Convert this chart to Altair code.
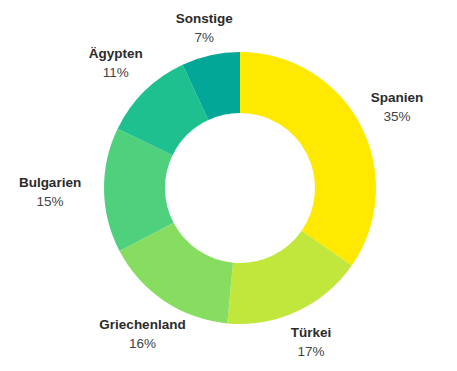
import altair as alt
import pandas as pd

laender = ["Spanien", "Türkei", "Griechenland", "Bulgarien", "Ägypten", "Sonstige"]
anteile = [35, 17, 16, 15, 11, 7]
farben = ["#FFE900", "#C1E73D", "#86DD60", "#4FD07D", "#1FC08F", "#02A797"]

df = pd.DataFrame({
    "land": laender,
    "anteil": anteile,
    "idx": list(range(len(laender))),
    "pct": [f"{v}%" for v in anteile],
})

cx, cy = 232, 180

arcs = alt.Chart(df).mark_arc(innerRadius=75, outerRadius=136, stroke=None).encode(
    theta=alt.Theta("anteil:Q", stack=True),
    order=alt.Order("idx:Q", sort="ascending"),
    x=alt.value(cx),
    y=alt.value(cy),
    color=alt.Color("land:N", scale=alt.Scale(domain=laender, range=farben), legend=None),
)

# label distance grows for side labels and shrinks for top/bottom labels
lab = alt.Chart(df).transform_window(
    cum="sum(anteil)", sort=[alt.SortField("idx", order="ascending")]
).transform_joinaggregate(
    total="sum(anteil)"
).transform_calculate(
    ang="(datum.cum - datum.anteil / 2) / datum.total * 2 * PI"
).transform_calculate(
    rlab="174 + 12 * pow(sin(datum.ang), 2) - 9 * pow(cos(datum.ang), 2) - 4 * sin(datum.ang) - 1.5 * cos(datum.ang)"
).encode(
    theta=alt.Theta("ang:Q", scale=None, stack=False),
    radius=alt.Radius("rlab:Q", scale=None, stack=False),
    x=alt.value(cx),
    y=alt.value(cy),
)

names = lab.mark_text(
    dy=-8, font="Liberation Sans", fontWeight="bold", fontSize=13.5, color="#2b2b2b"
).encode(text="land:N")

pcts = lab.mark_text(
    dy=11, font="Liberation Sans", fontSize=13.5, color="#444444"
).encode(text="pct:N")

chart = (arcs + names + pcts).properties(
    width=441, height=355, padding=0, background="white",
    autosize=alt.AutoSizeParams(type="none"),
).configure_view(stroke=None)

chart.save("out.html", embed_options={"renderer": "svg", "actions": False})
